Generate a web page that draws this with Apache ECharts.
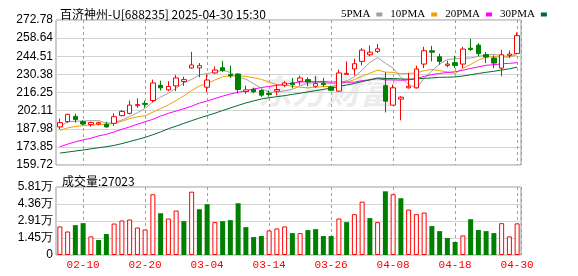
<!DOCTYPE html>
<html><head><meta charset="utf-8">
<script src="https://cdn.jsdelivr.net/npm/echarts@6/dist/echarts.min.js"></script>
<style>html,body{margin:0;padding:0;background:#fff}#c{width:578px;height:276px}</style>
</head><body><div id="c"></div>
<script>
const dates = ['02-05','02-06','02-07','02-10','02-11','02-12','02-13','02-14','02-17','02-18','02-19','02-20','02-21','02-24','02-25','02-26','02-27','02-28',
'03-03','03-04','03-05','03-06','03-07','03-10','03-11','03-12','03-13','03-14','03-17','03-18','03-19','03-20','03-21','03-24','03-25','03-26','03-27','03-28','03-31',
'04-01','04-02','04-03','04-07','04-08','04-09','04-10','04-11','04-14','04-15','04-16','04-17','04-18','04-21','04-22','04-23','04-24','04-25','04-28','04-29','04-30'];
const opens  = [189.4,193.5,197.6,193.5,191.2,191.7,191.5,192.2,198.2,200.0,206.0,207.8,210.0,221.9,218.3,221.4,224.8,235.4,235.4,220.4,231.5,235.6,230.2,230.7,217.0,218.8,217.8,215.5,217.3,221.9,223.7,225.0,226.3,221.1,223.5,220.6,217.3,230.4,234.6,240.5,245.7,248.3,221.6,206.4,211.1,219.9,219.9,238.4,248.8,244.1,237.4,239.5,238.4,250.8,253.2,245.7,243.1,235.3,245.2,246.7];
const closes = [192.8,199.2,195.1,191.7,192.8,192.7,189.4,197.4,201.5,206.4,206.8,207.0,223.7,219.9,220.9,227.6,226.3,237.7,237.2,226.0,233.8,233.3,229.2,218.6,218.3,216.8,214.2,214.7,218.6,223.7,222.4,227.6,224.5,223.2,222.4,218.0,231.5,231.2,238.7,249.3,247.7,250.3,209.5,219.9,212.6,221.1,234.6,248.8,247.7,240.5,238.4,237.4,250.1,249.8,246.5,243.9,239.2,245.7,246.2,260.6];
const lows   = [187.6,192.5,192.7,190.9,189.6,190.7,188.9,190.2,197.7,199.2,204.4,204.4,208.5,217.8,217.3,217.3,221.4,234.8,228.1,216.5,230.7,232.3,227.6,215.5,215.2,215.7,212.9,213.1,213.9,220.4,219.4,221.9,221.2,219.9,220.6,217.5,216.8,230.2,229.4,237.4,244.4,247.0,200.7,206.2,194.6,219.4,219.4,235.3,240.5,237.9,235.9,235.3,235.3,248.5,244.4,239.2,235.3,228.9,243.1,246.2];
const highs  = [195.9,199.7,199.7,194.6,193.5,193.5,193.5,200.0,202.6,210.0,211.6,210.0,226.3,225.5,225.0,229.9,228.6,248.0,239.2,230.2,236.6,241.0,237.2,231.2,221.6,220.1,218.8,217.8,222.4,225.0,227.6,229.4,228.1,228.9,227.6,221.6,234.1,240.5,242.6,250.8,252.9,254.2,232.0,222.4,213.4,231.5,237.2,251.9,252.6,246.5,241.0,244.9,251.9,258.1,254.7,247.7,245.2,249.5,249.0,263.0];
const volumes = [24400,20100,25500,27200,15900,12800,17900,26900,29500,30300,23500,21800,51900,35700,31200,38000,28900,54100,39100,43400,28100,28900,29800,44200,23800,15300,16200,21000,22700,24400,
18700,18700,21300,22100,16200,16200,31200,28100,34900,45600,31500,28100,54400,51900,48500,38800,34900,36300,24700,20400,14500,11100,16700,30600,21300,20400,18700,27200,15900,27023];
const ma5  = [189.5,193.5,193.8,194.0,194.3,194.3,192.3,192.8,194.8,197.5,200.4,203.8,209.0,212.7,215.6,219.7,223.7,226.5,229.9,231.0,232.2,233.6,231.9,228.2,226.6,223.2,219.4,216.5,216.5,217.6,218.7,221.4,223.4,224.3,224.0,223.1,223.9,225.3,228.4,233.7,239.7,243.4,239.1,235.3,228.0,222.7,219.5,227.4,233.0,238.5,242.0,242.6,242.8,243.2,244.4,245.5,245.9,245.0,244.3,247.1];
const ma10 = [186.7,188.6,189.8,190.4,190.9,191.2,191.4,192.2,193.8,195.9,197.3,198.1,200.9,203.7,206.6,210.0,213.7,217.8,221.3,223.3,226.0,228.6,229.2,229.1,228.8,227.7,226.5,224.2,222.4,222.1,221.0,220.4,219.9,220.4,220.8,220.9,222.7,224.3,226.3,228.9,231.4,233.7,232.2,231.9,230.9,231.2,231.5,233.3,234.2,233.3,232.3,231.1,235.1,238.1,241.5,243.8,244.2,243.9,243.8,245.8];
const ma20 = [173.9,176.0,177.8,179.3,180.6,182.4,183.7,185.5,187.6,189.4,191.5,193.5,195.3,197.9,200.0,201.8,203.6,205.6,208.0,209.6,211.6,213.4,215.1,216.4,217.7,218.9,220.1,221.0,221.8,222.7,223.5,224.5,224.6,224.7,224.8,224.3,224.6,224.3,224.3,225.5,226.2,227.0,226.1,226.1,225.8,226.1,227.1,228.8,230.2,231.1,231.9,232.4,233.6,235.0,236.2,237.5,237.9,238.6,239.0,239.5];
const ma30 = [169.0,169.8,170.6,171.4,172.3,173.2,174.0,175.0,176.4,178.0,179.6,181.3,183.3,185.5,188.0,190.0,192.2,194.3,196.3,198.2,200.1,202.2,204.2,206.2,208.1,209.7,211.2,212.2,213.0,213.8,214.8,215.7,216.7,217.7,218.7,219.6,221.0,222.1,223.3,224.8,226.1,227.6,227.1,227.1,226.8,226.6,226.9,227.3,227.6,228.1,228.2,228.4,229.1,230.1,231.1,232.0,232.8,233.8,234.7,236.0];
const priceTicks = ['159.72','173.85','187.98','202.11','216.25','230.38','244.51','258.64','272.78'];
const volTicks = ['0','1.45万','2.91万','4.36万','5.81万'];
const titleText = '百济神州-U[688235] 2025-04-30 15:30';
const labelDates = ['02-10','02-20','03-04','03-14','03-26','04-08','04-18','04-30'];

const RED = '#ff0000', GREEN = '#008000';
const pMin = 159.72, pMax = 272.78, pStep = (pMax - pMin) / 8;
const vMax = 58100, vStep = vMax / 4;
const kdata = dates.map((d, i) => [opens[i], closes[i], lows[i], highs[i]]);
const vdata = volumes.map((v, i) => {
  const up = i === 0 ? true : closes[i] >= closes[i - 1];
  return { value: v, itemStyle: up ? { color: '#fff', borderColor: RED, borderWidth: 1 } : { color: GREEN } };
});
const labelIdx = new Set(labelDates.map(d => dates.indexOf(d)));
const showAt = (i) => labelIdx.has(i);
const halfSlots = dates.flatMap(d => [d + 'a', d + 'b']);
const showHalf = (k) => k % 2 === 1 && labelIdx.has((k - 1) / 2);
const dashStyle = { color: '#a0a0a0', type: [3, 3], width: 1 };

const chart = echarts.init(document.getElementById('c'), null, { renderer: 'canvas' });
const maSeries = (name, data, color) => ({
  name, type: 'line', data, xAxisIndex: 0, yAxisIndex: 0, symbol: 'none', smooth: false,
  lineStyle: { width: 1, color }, itemStyle: { color }, z: 3, silent: true
});
const helperAxis = (gi) => ({
  type: 'category', data: halfSlots, gridIndex: gi, boundaryGap: true, show: true,
  axisLine: { show: false }, axisTick: { show: false }, axisLabel: { show: false },
  splitLine: { show: true, interval: showHalf, lineStyle: dashStyle }
});
chart.setOption({
  animation: false,
  textStyle: { fontFamily: 'Liberation Sans, Arial, sans-serif' },
  title: [
    { text: titleText, left: 55, top: 3, textStyle: { fontSize: 12, fontWeight: 'normal', color: '#000', fontFamily: 'Noto Sans CJK SC' } },
    { text: '成交量:' + volumes[volumes.length - 1], left: 57, top: 170, textStyle: { fontSize: 12, fontWeight: 'normal', color: '#000', fontFamily: 'Noto Sans CJK SC' } }
  ],
  legend: {
    data: ['5PMA', '10PMA', '20PMA', '30PMA'], left: 336, top: 4, width: 240, icon: 'rect', itemWidth: 6, itemHeight: 4,
    align: 'right', itemGap: 8, selectedMode: false,
    textStyle: { fontSize: 11, color: '#000', fontFamily: 'Liberation Serif, serif', padding: [0, 1, 0, 0] }
  },
  graphic: [
    { type: 'text', z: -1, left: 258, top: 74, silent: true,
      style: { text: '东方财富', font: 'italic bold 34px "Noto Sans CJK SC"', fill: 'rgba(170,170,170,0.22)' } }
  ],
  grid: [
    { left: 56, width: 465, top: 20, height: 145, show: true, borderColor: '#999', borderWidth: 1, backgroundColor: 'transparent' },
    { left: 56, width: 465, top: 187, height: 68, show: true, borderColor: '#999', borderWidth: 1, backgroundColor: 'transparent' }
  ],
  xAxis: [
    { type: 'category', data: dates, gridIndex: 0, boundaryGap: true, axisLine: { show: false },
      axisTick: { show: false }, axisLabel: { show: false }, splitLine: { show: false } },
    { type: 'category', data: dates, gridIndex: 1, boundaryGap: true, axisLine: { show: false }, axisTick: { show: false },
      axisLabel: { color: RED, fontSize: 11, fontFamily: 'Liberation Mono, monospace', margin: 5, interval: showAt },
      splitLine: { show: false } },
    helperAxis(0),
    helperAxis(1)
  ],
  yAxis: [
    { type: 'value', gridIndex: 0, min: pMin, max: pMax, interval: pStep, scale: true,
      axisLine: { show: false }, axisTick: { show: false },
      axisLabel: { fontSize: 12, color: '#000', margin: 3, formatter: (v) => priceTicks[Math.round((v - pMin) / pStep)] },
      splitLine: { lineStyle: { color: '#d4d4d4', width: 1 } } },
    { type: 'value', gridIndex: 1, min: 0, max: vMax, interval: vStep,
      axisLine: { show: false }, axisTick: { show: false },
      axisLabel: { fontSize: 12, color: '#000', margin: 3, formatter: (v) => volTicks[Math.round(v / vStep)] },
      splitLine: { lineStyle: { color: '#d4d4d4', width: 1 } } }
  ],
  series: [
    { name: 'K', type: 'candlestick', data: kdata, xAxisIndex: 0, yAxisIndex: 0, barWidth: 5, z: 4,
      itemStyle: { color: '#fff', color0: GREEN, borderColor: RED, borderColor0: GREEN, borderWidth: 1 } },
    maSeries('5PMA', ma5, '#a0a0a0'),
    maSeries('10PMA', ma10, '#f0a000'),
    maSeries('20PMA', ma20, '#ff00ff'),
    maSeries('30PMA', ma30, '#006a2e'),
    { name: 'VOL', type: 'bar', data: vdata, xAxisIndex: 1, yAxisIndex: 1, barWidth: 5, z: 3 }
  ]
});
</script></body></html>
